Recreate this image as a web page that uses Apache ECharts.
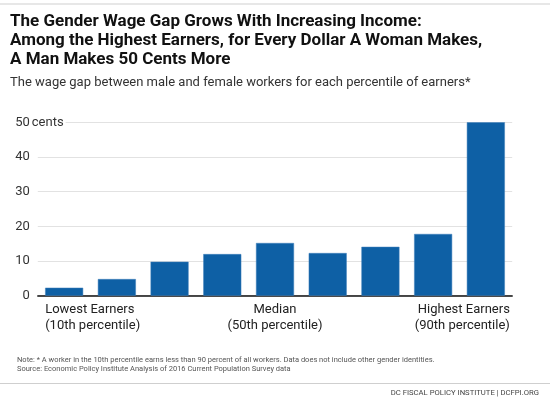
<!DOCTYPE html>
<html>
<head>
<meta charset="utf-8">
<script src="https://cdn.jsdelivr.net/npm/echarts@6/dist/echarts.min.js"></script>
<style>
  html, body { margin: 0; padding: 0; background: #fff; }
  #chart { width: 550px; height: 399px; }
</style>
</head>
<body>
<div id="chart"></div>
<script>
// percentile of earners
var categories = ['10th', '20th', '30th', '40th', '50th', '60th', '70th', '80th', '90th'];
// wage gap, cents per dollar
var gapCents = [2.3, 4.8, 9.8, 12.0, 15.2, 12.3, 14.1, 17.8, 50];
// only three categories get a label under the axis
var tickLabels = ['Lowest Earners\n(10th percentile)', '', '', '', 'Median\n(50th percentile)', '', '', '', 'Highest Earners\n(90th percentile)'];
var yTicks = [0, 10, 20, 30, 40, 50];

var font = 'Roboto, "Noto Sans", sans-serif';

function draw_chart(id) {
    var myChart = echarts.init(document.getElementById(id));

    var xData = categories.map(function (c, i) {
        var item = { value: c };
        if (i === 0) {
            item.textStyle = { align: 'left', padding: [0, 0, 0, -19] };
        } else if (i === categories.length - 1) {
            item.textStyle = { align: 'right', padding: [0, -24, 0, 0] };
        }
        return item;
    });

    var option = {
        animation: false,
        textStyle: { fontFamily: font },
        title: [
            {
                text: 'The Gender Wage Gap Grows With Increasing Income:\nAmong the Highest Earners, for Every Dollar A Woman Makes,\nA Man Makes 50 Cents More',
                left: 10,
                top: 12,
                padding: 0,
                textStyle: { fontFamily: font, fontSize: 17, fontWeight: 'bold', lineHeight: 19, color: '#111' }
            },
            {
                text: 'The wage gap between male and female workers for each percentile of earners*',
                left: 10,
                top: 75,
                padding: 0,
                textStyle: { fontFamily: font, fontSize: 13, fontWeight: 'normal', lineHeight: 16, color: '#333' }
            },
            {
                text: 'Note: * A worker in the 10th percentile earns less than 90 percent of all workers. Data does not include other gender identities.\nSource: Economic Policy Institute Analysis of 2016 Current Population Survey data',
                left: 17,
                top: 355,
                padding: 0,
                textStyle: { fontFamily: font, fontSize: 7.5, fontWeight: 'normal', lineHeight: 9.5, color: '#555' }
            },
            {
                text: 'DC FISCAL POLICY INSTITUTE | DCFPI.ORG',
                right: 11,
                top: 388,
                padding: 0,
                textStyle: { fontFamily: font, fontSize: 7.7, fontWeight: 'normal', lineHeight: 10, color: '#444' }
            }
        ],
        graphic: [
            { type: 'line', shape: { x1: 0, y1: 4, x2: 550, y2: 4 }, style: { stroke: '#cfcfcf', lineWidth: 1 } },
            { type: 'line', shape: { x1: 0, y1: 383.5, x2: 550, y2: 383.5 }, style: { stroke: '#cfcfcf', lineWidth: 1 } }
        ],
        grid: {
            left: 37.8,
            right: 37.8,
            top: 122.3,
            bottom: 103.3,
            containLabel: false
        },
        xAxis: {
            type: 'category',
            data: xData,
            axisLine: { show: true, lineStyle: { color: '#111', width: 1.5 } },
            axisTick: { show: false },
            axisLabel: {
                interval: 0,
                margin: 6,
                fontSize: 13,
                lineHeight: 16,
                color: '#222',
                fontFamily: font,
                formatter: function (value, index) {
                    return tickLabels[index];
                }
            }
        },
        yAxis: {
            type: 'value',
            min: yTicks[0],
            max: yTicks[yTicks.length - 1],
            interval: 10,
            name: 'cents',
            nameLocation: 'end',
            nameGap: 0,
            nameMoveOverlap: false,
            nameTextStyle: {
                fontFamily: font,
                fontSize: 13,
                color: '#333',
                align: 'left',
                verticalAlign: 'middle',
                padding: [0, 2, 0, -6],
                backgroundColor: '#fff'
            },
            axisLine: { show: false },
            axisTick: { show: false },
            axisLabel: { margin: 8, fontSize: 13, color: '#333', fontFamily: font },
            splitLine: { lineStyle: { color: '#e2e2e2', width: 1 } }
        },
        series: [
            {
                name: 'Wage gap',
                type: 'bar',
                data: gapCents,
                barWidth: 38,
                itemStyle: { color: '#0e60a5', borderColor: '#3f7fbb', borderWidth: 0.5 }
            }
        ]
    };
    myChart.setOption(option);
}

draw_chart('chart');
</script>
</body>
</html>
